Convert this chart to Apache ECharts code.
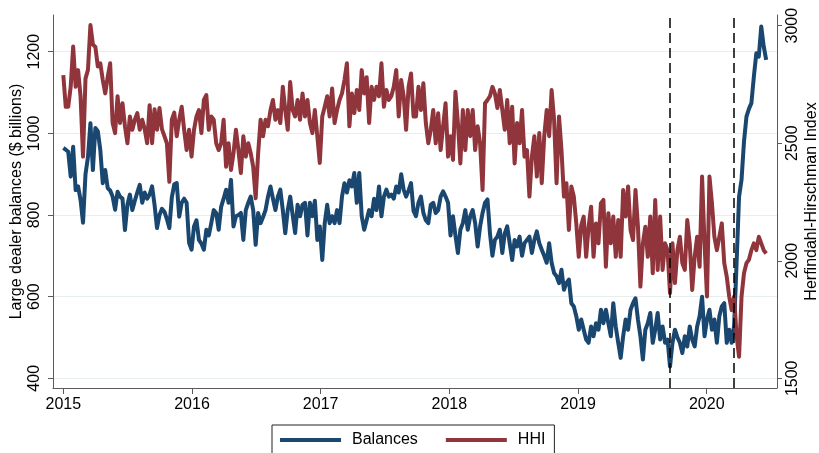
<!DOCTYPE html>
<html>
<head>
<meta charset="utf-8">
<script src="https://cdn.jsdelivr.net/npm/echarts@6/dist/echarts.min.js"></script>
<style>
html, body { margin: 0; padding: 0; background: #fff; }
#main { width: 819px; height: 453px; }
</style>
</head>
<body>
<div id="main"></div>
<script>
// weekly observations, first one in the first week of 2015
var firstWeek = 2015.0;
var weekLen = 7 / 365.25;
var yearTicks = [2015, 2016, 2017, 2018, 2019, 2020];
var balanceTicks = [400, 600, 800, 1000, 1200];
var hhiTicks = [1500, 2000, 2500, 3000];
// Sep 2019 repo spike, Mar 2020
var eventDates = [2019.712, 2020.208];

// large dealer balances, $ billions
var balances = [
  964, 960, 955, 894, 967, 861, 870, 837, 781, 900,
  942, 1025, 910, 1013, 1005, 960, 878, 910, 866, 860,
  845, 813, 857, 845, 840, 763, 825, 850, 812, 835,
  855, 874, 830, 855, 840, 850, 870, 825, 768, 800,
  815, 808, 790, 768, 843, 875,
  878, 796, 830, 840, 830, 732, 715, 772, 787, 739,
  730, 715, 764, 750, 780, 812, 805, 764, 820, 840,
  862, 830, 886, 772, 797, 800, 805, 739, 812, 830,
  845, 812, 727, 805, 780, 795, 812, 845, 870, 840,
  812, 845, 862, 812, 755, 812, 845, 800,
  756, 825, 797, 825, 830, 750, 830, 797, 835, 739,
  772, 690, 780, 825, 780, 797, 780, 812, 780, 845,
  878, 855, 885, 870, 903, 830, 903, 797, 764, 787,
  812, 797, 840, 812, 870, 797, 845, 862, 845, 850,
  840, 870, 855, 900, 862, 845, 860, 878, 810,
  797, 830, 845, 805, 787, 780, 825, 830, 805, 812,
  845, 858, 845, 830, 750, 797, 750, 707, 764, 780,
  812, 764, 797, 812, 780, 723, 772, 805, 830, 838,
  755, 700, 739, 747, 764, 707, 755, 772, 731, 690,
  739, 723, 747, 700, 731, 739, 747, 707, 739,
  760, 731, 715, 700, 683, 731, 683, 658, 650, 633,
  666, 617, 633, 642, 584, 576, 552, 519, 544, 519,
  495, 487, 527, 503, 535, 519, 568, 535, 568, 535,
  503, 584, 527, 487, 450, 503, 544, 519, 568, 584,
  596, 544, 503, 446, 519, 535, 560, 487,
  519, 560, 495, 527, 487, 495, 429, 487, 519, 500,
  487, 462, 503, 478, 527, 495, 478, 527, 552, 600,
  503, 544, 568, 519, 544, 487, 552, 576, 584, 487,
  519, 487, 530, 683, 845, 886, 980, 1041, 1060, 1074,
  1139, 1196, 1188, 1262, 1213, 1180
];

// Herfindahl-Hirschman Index
var hhi = [
  2790, 2655, 2655, 2740, 2911, 2740, 2811, 2700, 2443, 2775,
  2812, 3003, 2920, 2910, 2826, 2840, 2769, 2712, 2781, 2840,
  2586, 2543, 2700, 2586, 2670, 2572, 2500, 2614, 2557, 2600,
  2628, 2557, 2600, 2560, 2500, 2662, 2500, 2645, 2557, 2650,
  2560, 2530, 2500, 2336, 2600, 2630,
  2530, 2600, 2655, 2557, 2471, 2557, 2443, 2557, 2614, 2641,
  2543, 2684, 2705, 2557, 2614, 2600, 2500, 2471, 2500, 2600,
  2400, 2500, 2386, 2457, 2557, 2471, 2373, 2530, 2443, 2500,
  2457, 2400, 2266, 2457, 2600, 2530, 2600, 2572, 2640, 2684,
  2600, 2641, 2586, 2740, 2641, 2557, 2760, 2641,
  2614, 2684, 2600, 2712, 2614, 2684, 2586, 2543, 2641, 2530,
  2416, 2614, 2655, 2700, 2614, 2733, 2586, 2641, 2684, 2712,
  2769, 2840, 2572, 2712, 2628, 2726, 2641, 2811, 2712, 2781,
  2586, 2740, 2684, 2740, 2700, 2840, 2655, 2726, 2684, 2700,
  2740, 2811, 2614, 2769, 2700, 2557, 2740, 2797, 2614,
  2614, 2740, 2641, 2755, 2586, 2500, 2557, 2641, 2500, 2628,
  2471, 2572, 2670, 2443, 2530, 2429, 2719, 2586, 2414, 2641,
  2471, 2641, 2530, 2641, 2471, 2572, 2500, 2301, 2670, 2684,
  2700, 2740, 2712, 2650, 2726, 2641, 2557, 2684, 2500, 2655,
  2414, 2586, 2500, 2641, 2443, 2471, 2273, 2443, 2530,
  2358, 2543, 2330, 2530, 2641, 2530, 2726, 2600, 2330, 2614,
  2471, 2273, 2330, 2131, 2316, 2273, 2159, 2017, 2150, 2188,
  2017, 2145, 2230, 2017, 2159, 2074, 2245, 2259, 1975, 2202,
  2074, 2188, 2017, 2173, 2017, 2301, 2188, 2316, 2131, 2088,
  2301, 2145, 1890, 2074, 2145, 2017, 2188, 1947,
  2259, 1961, 2188, 1961, 2074, 2045, 1862, 2074, 1905, 2045,
  2102, 1990, 1961, 2173, 2074, 1876, 2017, 2102, 1975, 2358,
  2074, 1848, 2358, 2245, 2102, 2045, 2102, 2159, 1990, 1933,
  1848, 1790, 1848, 1680, 1592, 1848, 1947, 1990, 2004, 2045,
  2074, 2045, 2102, 2074, 2045, 2031
];

var blue = '#1a476f';
var red = '#90353b';
var font = "'Liberation Sans', Arial, Helvetica, sans-serif";

function weekly(vals){
    var out = [];
    for (var i = 0; i < vals.length; i++) {
        out.push([firstWeek + i * weekLen, vals[i]]);
    }
    return out;
}
function plain(v){ return String(Math.round(v)); }

var myChart = echarts.init(document.getElementById('main'));
var axisGray = '#5a5a5a';
var option = {
    animation: false,
    backgroundColor: '#fff',
    textStyle: { fontFamily: font },
    grid: { left: 53, right: 42, top: 15, bottom: 65, containLabel: false, outerBoundsMode: 'none' },
    legend: {
        left: 272,
        top: 425,
        data: [{name: 'Balances', icon: 'rect'}, {name: 'HHI', icon: 'rect'}],
        itemWidth: 61,
        itemHeight: 4,
        itemGap: 28,
        borderColor: '#222',
        borderWidth: 1,
        backgroundColor: '#fff',
        padding: [7, 9, 7, 8],
        textStyle: { fontFamily: font, fontSize: 16, color: '#000', padding: [0, 0, 0, 6] }
    },
    xAxis: {
        type: 'value',
        min: 2014.92,
        max: 2020.546,
        axisLine: { show: true, lineStyle: { color: axisGray, width: 1 } },
        axisTick: { show: true, length: 6, customValues: yearTicks, lineStyle: { color: axisGray } },
        axisLabel: { customValues: yearTicks, fontSize: 16, color: '#000', margin: 9, formatter: plain },
        splitLine: { show: false }
    },
    yAxis: [
        {
            type: 'value',
            position: 'left',
            min: 376.2,
            max: 1289.9,
            name: 'Large dealer balances ($ billions)',
            nameLocation: 'middle',
            nameRotate: 90,
            nameGap: 28,
            nameMoveOverlap: false,
            nameTextStyle: { fontSize: 16, color: '#000', fontFamily: font },
            axisLine: { show: true, lineStyle: { color: axisGray } },
            axisTick: { show: true, length: 5, customValues: balanceTicks, lineStyle: { color: axisGray } },
            axisLabel: { customValues: balanceTicks, rotate: 90, fontSize: 16, color: '#000', margin: 10, formatter: plain },
            splitLine: { show: true, lineStyle: { color: '#e6eef0', width: 1 } }
        },
        {
            type: 'value',
            position: 'right',
            min: 1458.7,
            max: 3045.5,
            name: 'Herfindahl-Hirschman Index',
            nameLocation: 'middle',
            nameRotate: 90,
            nameGap: 27,
            nameMoveOverlap: false,
            nameTextStyle: { fontSize: 16, color: '#000', fontFamily: font },
            axisLine: { show: true, lineStyle: { color: axisGray } },
            axisTick: { show: true, length: 5, customValues: hhiTicks, lineStyle: { color: axisGray } },
            axisLabel: { customValues: hhiTicks, rotate: 90, fontSize: 16, color: '#000', margin: 8, formatter: plain },
            splitLine: { show: false }
        }
    ],
    series: [
        {
            name: 'Balances',
            type: 'line',
            yAxisIndex: 0,
            data: weekly(balances),
            showSymbol: false,
            color: blue,
            lineStyle: { width: 4, color: blue, join: 'round' },
            markLine: {
                silent: true,
                symbol: 'none',
                label: { show: false },
                lineStyle: { color: '#000', width: 1.5, type: [10, 5] },
                data: eventDates.map(function(d){ return { xAxis: d }; })
            }
        },
        {
            name: 'HHI',
            type: 'line',
            yAxisIndex: 1,
            data: weekly(hhi),
            showSymbol: false,
            color: red,
            lineStyle: { width: 4, color: red, join: 'round' }
        }
    ]
};
myChart.setOption(option);
</script>
</body>
</html>
